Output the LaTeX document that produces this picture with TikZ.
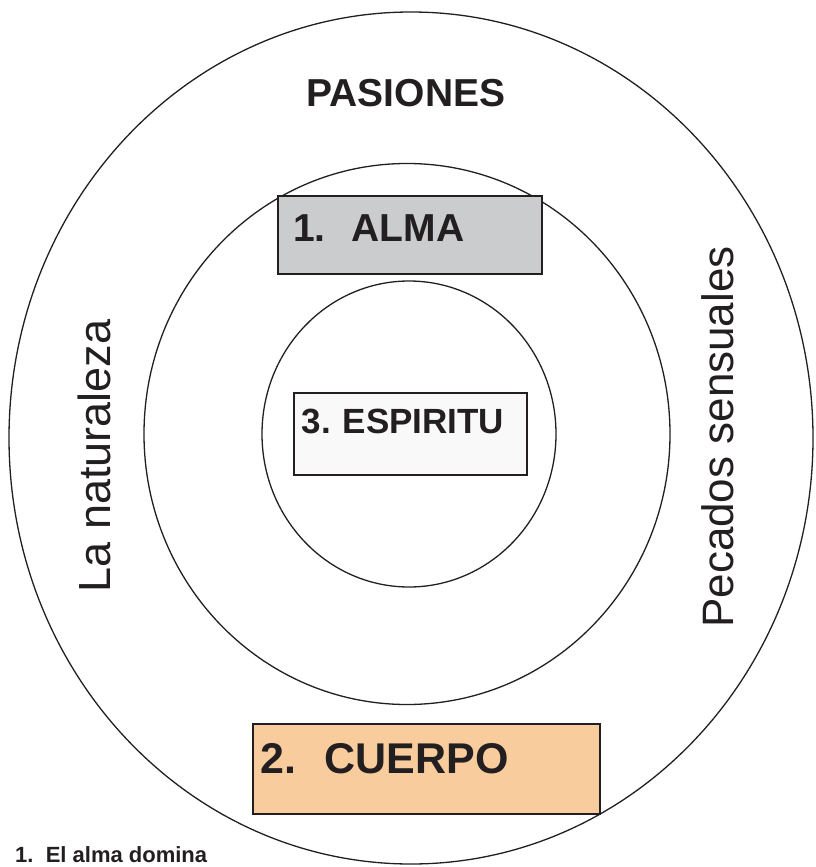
\documentclass[tikz,border=0pt]{standalone}
\usepackage{fontspec}
\setmainfont{Liberation Sans}
\usepackage{tikz}
\usetikzlibrary{shapes.geometric}
\definecolor{ink}{HTML}{231F20}
\definecolor{almagray}{HTML}{CBCCCE}
\definecolor{cuerpopeach}{HTML}{F9CC9D}
\definecolor{espiritugray}{HTML}{F9F9F9}
\newcommand{\bigtext}[1]{\fontsize{#1}{#1}\selectfont}
\tikzset{ring/.style     = {ellipse, draw=ink, line width=1.3pt, inner sep=0pt},
         partbox/.style  = {rectangle, draw=ink, line width=2.4pt, anchor=north west,
                            inner ysep=0pt, align=left, text=ink, font=\bfseries},
         sidetext/.style = {rotate=90, text=ink, inner sep=0pt}}

\begin{document}
\begin{tikzpicture}[x=1pt, y=-1pt]
  \useasboundingbox (0,0) rectangle (816,867);
  \node[ring, minimum width=804pt, minimum height=852pt] (outer) at (411,438) {};
  \node[ring, minimum width=526pt, minimum height=541pt] (middle) at (407,434) {};
  \node[ring, minimum width=294pt, minimum height=306pt] (inner) at (409,434) {};
  \node[text=ink, font=\bfseries\bigtext{39}] (pasiones) at (406,93) {PASIONES};
  \node[sidetext, font=\bigtext{45}] (naturaleza) at (94,456) {La naturaleza};
  \node[sidetext, font=\bigtext{44}] (pecados) at (718,437) {Pecados sensuales};
  \node[partbox, fill=almagray, inner xsep=15pt, text width=234pt,
        text height=45pt, text depth=33pt, font=\bfseries\bigtext{39}]
        (alma) at (277,195) {1.\ \ ALMA};
  \node[partbox, fill=espiritugray, line width=1.8pt, inner xsep=8pt, text width=217pt,
        text height=41pt, text depth=41pt, font=\bfseries\bigtext{35}]
        (espiritu) at (293,392) {3.\ ESPIRITU};
  \node[partbox, fill=cuerpopeach, inner xsep=7pt, text width=333pt,
        text height=49pt, text depth=41pt, font=\bfseries\bigtext{43}]
        (cuerpo) at (252,723) {2.\ \ CUERPO};
  \node[anchor=base west, inner sep=0pt, text=ink, font=\bfseries\bigtext{22}]
        (nota) at (15,862) {1.\ \ El alma domina};
\end{tikzpicture}
\end{document}
